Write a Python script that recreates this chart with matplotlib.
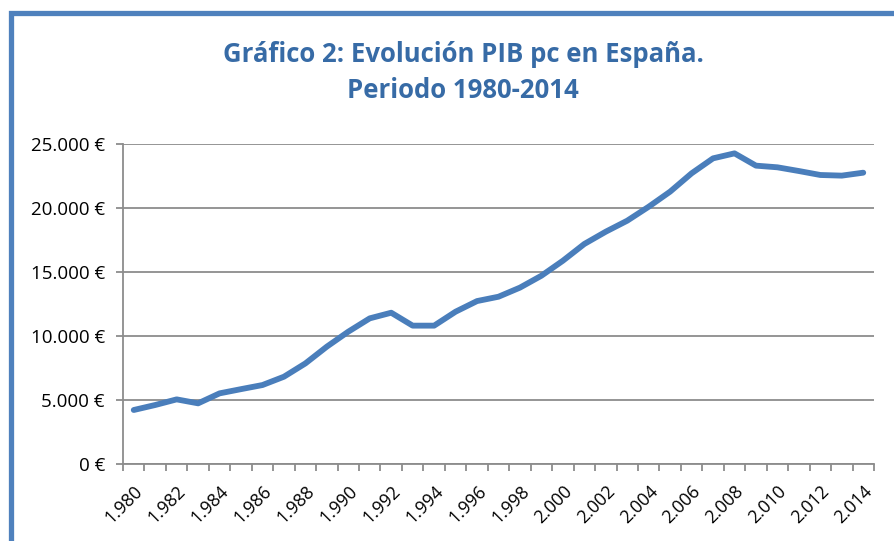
"""Evolucion PIB pc en Espana, 1980-2014."""

import matplotlib

matplotlib.use("Agg", force=True)
import matplotlib.pyplot as plt
from matplotlib.patches import Rectangle
from matplotlib.ticker import FuncFormatter

years = list(range(1980, 2015))
pib_pc = [
    4220, 4610, 5050, 4740, 5520, 5850, 6170, 6820, 7860, 9170,
    10340, 11380, 11820, 10810, 10810, 11900, 12730, 13070, 13780, 14710,
    15880, 17190, 18150, 19010, 20100, 21280, 22710, 23880, 24270, 23310,
    23180, 22890, 22580, 22530, 22760,
]
y_ticks = [0, 5000, 10000, 15000, 20000, 25000]

plt.rcParams["font.family"] = ["Open Sans", "DejaVu Sans"]

fig = plt.figure(figsize=(8.94, 5.41), dpi=100)
ax = fig.add_axes([0.1376, 0.1423, 0.8400, 0.5915])

# blue chart frame, cut off at right and bottom like the source image
fig.patches.append(Rectangle((11 / 894, -0.05), 1.2, 1.05 - 13 / 541, transform=fig.transFigure,
                             fill=False, edgecolor="#4F81BD", linewidth=3.8))

x = list(range(len(years)))
ax.plot(x, pib_pc, color="#4A7EBB", linewidth=4.2, solid_capstyle="round",
        solid_joinstyle="round", zorder=3)

ax.set_ylim(0, 25000)
ax.set_yticks(y_ticks)
ax.yaxis.set_major_formatter(FuncFormatter(lambda v, p: f"{int(v):,} €".replace(",", ".")))
ax.grid(axis="y", color="#8C8C8C", linewidth=1.3)
ax.set_axisbelow(True)

ax.set_xlim(-0.5, len(years) - 0.5)
ax.set_xticks([i - 0.5 for i in range(len(years) + 1)])
ax.set_xticklabels([])
ax.set_xticks(x[::2], minor=True)
ax.set_xticklabels([f"{y // 1000}.{y % 1000:03d}" for y in years[::2]], minor=True,
                   rotation=45, ha="right", rotation_mode="anchor", fontsize=12.8)
ax.tick_params(axis="x", which="minor", length=0, pad=13)
ax.tick_params(axis="x", which="major", length=5, color="#8C8C8C", width=1.3)
ax.tick_params(axis="y", length=5, color="#8C8C8C", width=1.3, labelsize=13.5, pad=8)

for side in ["top", "right"]:
    ax.spines[side].set_visible(False)
for side in ["left", "bottom"]:
    ax.spines[side].set_color("#8C8C8C")
    ax.spines[side].set_linewidth(1.3)

fig.text(0.518, 0.866, "Gráfico 2: Evolución PIB pc en España.\nPeriodo 1980-2014",
         ha="center", va="center", fontsize=18.5, fontweight="bold", color="#376BA6",
         linespacing=1.45)

fig.savefig("out.png", dpi=100)
plt.close(fig)
